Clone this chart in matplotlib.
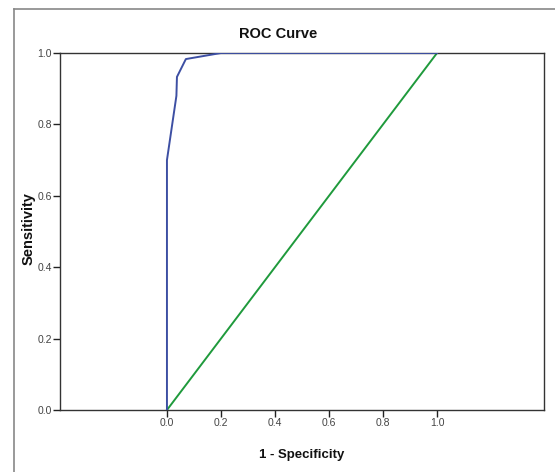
"""
ROC curve, SPSS-style output
"""
import matplotlib
matplotlib.use('Agg')
from matplotlib import pyplot as plt
from matplotlib.lines import Line2D

plt.rcParams['font.family'] = ['Liberation Sans', 'DejaVu Sans']

# roc points
fpr = [0.0, 0.0, 0.035, 0.037, 0.07, 0.2, 1.0]
tpr = [0.0, 0.70, 0.88, 0.933, 0.983, 1.0, 1.0]

# reference line
ref_x = [0.0, 1.0]
ref_y = [0.0, 1.0]

ticks = [0.0, 0.2, 0.4, 0.6, 0.8, 1.0]
tick_labels = ['0.0', '0.2', '0.4', '0.6', '0.8', '1.0']

W, H = 555, 472
fig = plt.figure(figsize=(W / 100, H / 100), dpi=100)

# plot box in pixel terms
left, right, top, bottom = 60, 544, 53, 410
ax = fig.add_axes([left / W, 1 - bottom / H, (right - left) / W, (bottom - top) / H])

ax.plot(ref_x, ref_y, color='#1f9a3c', linewidth=1.4, zorder=2)
ax.plot(fpr, tpr, color='#3d4fa3', linewidth=1.4, zorder=3)

ax.set_xlim(-0.396, 1.396)
ax.set_ylim(0, 1)
ax.set_xticks(ticks)
ax.set_xticklabels(tick_labels)
ax.set_yticks(ticks)
ax.set_yticklabels(tick_labels)
ax.tick_params(direction='out', length=5, width=1, colors='#222222',
               labelsize=7.5, labelcolor='#444444', pad=1)
for s in ax.spines.values():
    s.set_color('#333333')
    s.set_linewidth(1.0)

fig.text(278 / W, 1 - 34 / H, 'ROC Curve', ha='center', va='center',
         fontsize=10.5, fontweight='bold', color='#111111')
fig.text(302 / W, 1 - 455 / H, '1 - Specificity', ha='center', va='center',
         fontsize=9.5, fontweight='bold', color='#111111')
fig.text(29 / W, 1 - 229 / H, 'Sensitivity', ha='center', va='center',
         rotation=90, fontsize=10.5, fontweight='bold', color='#111111')

# outer frame, cut off on right and bottom
fig.add_artist(Line2D([14 / W, 14 / W], [0, 1 - 9 / H], transform=fig.transFigure,
                      color='#888888', linewidth=1.2))
fig.add_artist(Line2D([14 / W, 1], [1 - 9 / H, 1 - 9 / H], transform=fig.transFigure,
                      color='#888888', linewidth=1.2))

fig.savefig('out.png', dpi=100)
